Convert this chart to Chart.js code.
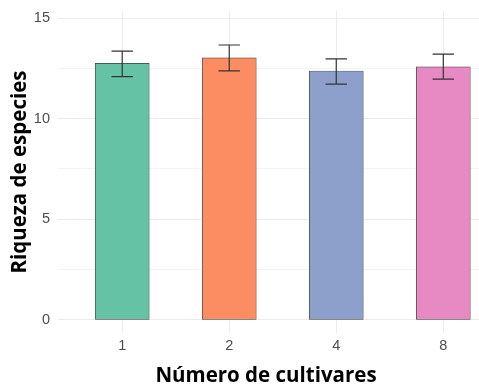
<!DOCTYPE html>
<html>
<head>
<meta charset="utf-8">
<script src="https://cdn.jsdelivr.net/npm/chart.js@4/dist/chart.umd.min.js"></script>
<style>
  html, body { margin: 0; padding: 0; background: #ffffff; }
  #wrap { width: 479px; height: 385px; overflow: hidden; position: relative; }
  canvas { display: block; }
</style>
</head>
<body>
<div id="wrap"><canvas id="chart" width="520" height="390"></canvas></div>
<script>
// Riqueza media de especies por número de cultivares, con barras de error
const categories = ['1', '2', '4', '8'];
const means = [12.75, 13.02, 12.37, 12.57];
const lower = [12.09, 12.37, 11.72, 11.96];
const upper = [13.36, 13.66, 12.97, 13.21];
const yTicks = [0, 5, 10, 15];
const yMinorTicks = [2.5, 7.5, 12.5];
const barColors = ['#66C2A5', '#FC8D62', '#8DA0CB', '#E78AC3'];
const xTitle = 'Número de cultivares';
const yTitle = 'Riqueza de especies';

const positions = categories.map((c, i) => i + 1);

const tickFont = { family: '"Liberation Sans", Arial, sans-serif', size: 14.5 };
const titleFont = { family: '"Open Sans", "Noto Sans", sans-serif', size: 20.5, weight: 'bold' };

// Barras de error (intervalo inferior-superior) sobre cada barra
const errorBars = {
  id: 'errorBars',
  afterDatasetsDraw(chart) {
    const { ctx, scales: { x, y } } = chart;
    ctx.save();
    ctx.strokeStyle = '#333333';
    ctx.lineWidth = 1.2;
    positions.forEach((p, i) => {
      const cx = x.getPixelForValue(p);
      const half = (x.getPixelForValue(p + 0.1) - cx);
      const yt = y.getPixelForValue(upper[i]);
      const yb = y.getPixelForValue(lower[i]);
      ctx.beginPath();
      ctx.moveTo(cx, yt); ctx.lineTo(cx, yb);
      ctx.moveTo(cx - half, yt); ctx.lineTo(cx + half, yt);
      ctx.moveTo(cx - half, yb); ctx.lineTo(cx + half, yb);
      ctx.stroke();
    });
    ctx.restore();
  }
};

// Título del eje x centrado en la zona visible de la figura
const xAxisTitle = {
  id: 'xAxisTitle',
  afterDraw(chart) {
    const { ctx } = chart;
    const visibleWidth = document.getElementById('wrap').clientWidth;
    const cx = (chart.chartArea.left + visibleWidth) / 2 - 2.5;
    ctx.save();
    ctx.font = `bold ${titleFont.size}px ${titleFont.family}`;
    ctx.fillStyle = '#000000';
    ctx.textAlign = 'center';
    ctx.textBaseline = 'middle';
    ctx.fillText(xTitle, cx, 376.5);
    ctx.restore();
  }
};

new Chart(document.getElementById('chart'), {
  type: 'bar',
  data: {
    datasets: [{
      data: positions.map((p, i) => ({ x: p, y: means[i] })),
      backgroundColor: barColors,
      borderColor: '#3a3a3a',
      borderWidth: 0.7,
      borderSkipped: false,
      barThickness: 54
    }]
  },
  options: {
    responsive: false,
    devicePixelRatio: 1,
    animation: false,
    layout: { padding: { top: 11, right: 12.5, left: 0, bottom: 0 } },
    plugins: { legend: { display: false }, tooltip: { enabled: false } },
    scales: {
      x: {
        type: 'linear',
        offset: false,
        min: 0.4,
        max: 4.6,
        afterBuildTicks(scale) { scale.ticks = positions.map(v => ({ value: v })); },
        afterFit(scale) { scale.height = 57; scale.paddingLeft = 0; scale.paddingRight = 0; },
        ticks: {
          callback: (v) => categories[v - 1],
          font: tickFont,
          color: '#4d4d4d',
          padding: 4.5,
          maxRotation: 0,
          autoSkip: false
        },
        grid: { color: '#ebebeb', lineWidth: 1, drawTicks: false, offset: false },
        border: { display: false },
        title: { display: false }
      },
      y: {
        min: -0.65,
        max: 15.35,
        afterBuildTicks(scale) {
          scale.ticks = [...yTicks, ...yMinorTicks].sort((a, b) => a - b).map(v => ({ value: v }));
        },
        afterFit(scale) { scale.width = 58; scale.paddingTop = 0; scale.paddingBottom = 0; },
        ticks: {
          callback: (v) => yTicks.includes(v) ? String(v) : '',
          font: tickFont,
          color: '#4d4d4d',
          padding: 8
        },
        grid: {
          color: (c) => yTicks.includes(c.tick.value) ? '#ebebeb' : '#f3f3f3',
          lineWidth: 1,
          drawTicks: false
        },
        border: { display: false },
        title: {
          display: true,
          text: yTitle,
          font: titleFont,
          color: '#000000',
          padding: { top: 8, bottom: 0 }
        }
      }
    }
  },
  plugins: [errorBars, xAxisTitle]
});
</script>
</body>
</html>
